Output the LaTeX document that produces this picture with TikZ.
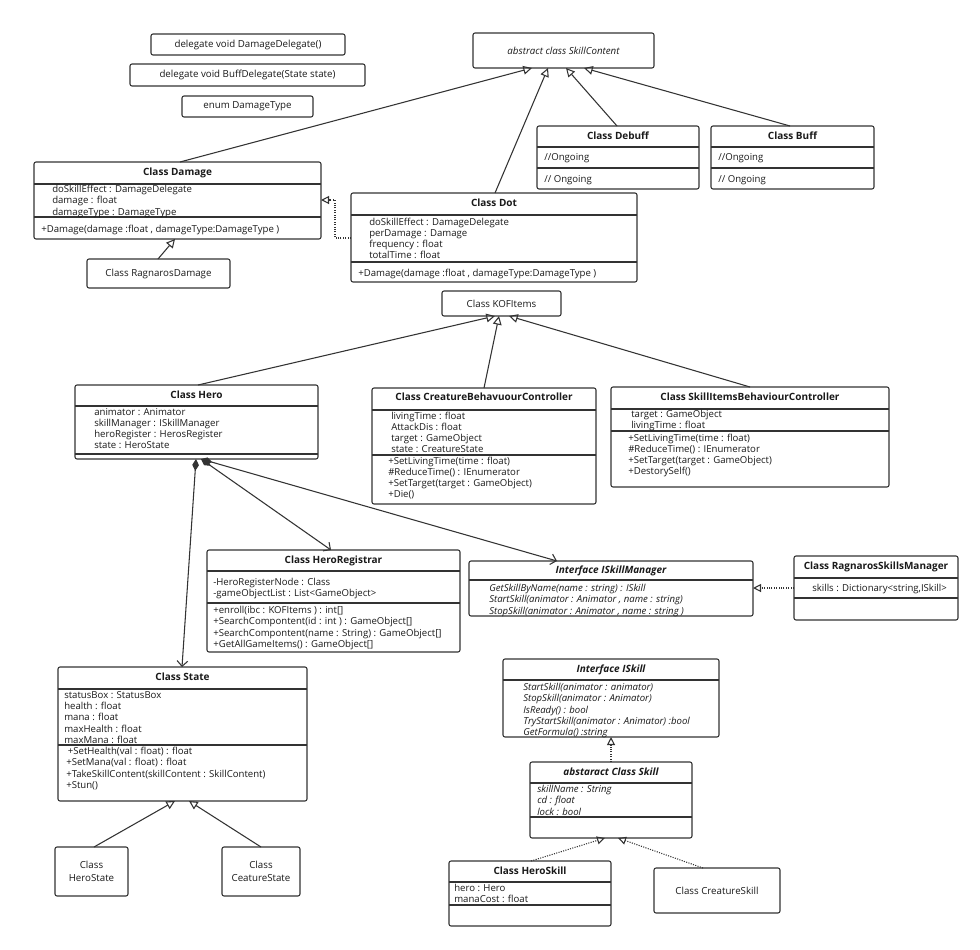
\documentclass[tikz,border=0pt]{standalone}
\usepackage{fontspec}
\setmainfont{Open Sans}
\usetikzlibrary{arrows.meta}
\definecolor{linec}{HTML}{333333}
\definecolor{textc}{HTML}{1A1A1A}
\newcommand\umlbox[5]{\node[ubox, minimum width={(#4)*0.75pt}, minimum height={(#5)*0.75pt}] (#1) at (#2,#3) {};}
\newcommand\hsep[2]{\draw[sepline] (#1.west |- 0,#2) -- (#1.east |- 0,#2);}
\newcommand\mline[1]{\hbox{#1}}
\tikzset{
  ubox/.style={draw=linec, line width=0.8pt, rounded corners=1.5pt, fill=white, anchor=north west, inner sep=0pt, outer sep=0pt},
  sepline/.style={draw=linec, line width=0.8pt},
  ttl/.style={font=\fontsize{7.5}{9}\selectfont\bfseries, text=textc, text height=5.5pt, text depth=1.5pt, inner sep=0pt},
  plain/.style={font=\fontsize{7.3}{9.75}\selectfont, text=textc, inner sep=0pt, align=center},
  txt/.style={anchor=base west, inner sep=0pt, yshift=-0.75pt, font=\fontsize{7.2}{8.4}\selectfont, text=textc},
  inh/.style={draw=linec, line width=0.8pt, -{Triangle[open, length=6.5pt, width=6.5pt]}},
  real/.style={draw=linec, line width=0.8pt, densely dotted, -{Triangle[open, length=6pt, width=6pt]}},
  comp/.style={draw=linec, line width=0.8pt, {Diamond[length=9pt, width=5pt]}-{Straight Barb[length=4pt, width=8pt]}}
}
\begin{document}
\begin{tikzpicture}[x=0.75pt, y=-0.75pt]
\path[use as bounding box, fill=white] (0,0) rectangle (980,949);

% top small boxes
\umlbox{DD}{151}{34}{194}{21}
\node[plain] (DDt) at (DD.center) {delegate void DamageDelegate()};
\umlbox{BD}{130}{64}{235}{22}
\node[plain] (BDt) at (BD.center) {delegate void BuffDelegate(State state)};
\umlbox{ET}{182}{96}{131}{21}
\node[plain] (ETt) at (ET.center) {enum DamageType};
\umlbox{SC}{473}{33}{181}{35}
\node[plain] (SCt) at (SC.center) {\itshape abstract class SkillContent};

% Damage
\umlbox{Dmg}{34}{162}{287}{77}
\node[ttl] (DmgT) at ([yshift=-7.9pt]Dmg.north) {Class Damage};
\hsep{Dmg}{184}\hsep{Dmg}{217}
\node[txt] (DmgA) at (52,191.7) {\vtop{\mline{doSkillEffect : DamageDelegate}\mline{damage : float}\mline{damageType : DamageType}}};
\node[txt] (DmgM) at (41,231.7) {+Damage(damage :float , damageType:DamageType )};

\umlbox{RD}{87}{259}{143}{29}
\node[plain] (RDt) at (RD.center) {Class RagnarosDamage};

% Debuff / Buff
\umlbox{Deb}{537}{126}{162}{63}
\node[ttl] (DebT) at ([yshift=-7.9pt]Deb.north) {Class Debuff};
\hsep{Deb}{147}\hsep{Deb}{168}
\node[txt] (DebA) at (544,159.7) {//Ongoing};
\node[txt] (DebM) at (544,181.7) {// Ongoing};

\umlbox{Buff}{711}{126}{163}{63}
\node[ttl] (BuffT) at ([yshift=-7.9pt]Buff.north) {Class Buff};
\hsep{Buff}{147}\hsep{Buff}{168}
\node[txt] (BuffA) at (718,159.7) {//Ongoing};
\node[txt] (BuffM) at (718,181.7) {// Ongoing};

% Dot
\umlbox{Dot}{351}{193}{286}{89}
\node[ttl] (DotT) at ([yshift=-8.25pt]Dot.north) {Class Dot};
\hsep{Dot}{215}\hsep{Dot}{262}
\node[txt] (DotA) at (369,224.3) {\vtop{\mline{doSkillEffect : DamageDelegate}\mline{perDamage : Damage}\mline{frequency : float}\mline{totalTime : float}}};
\node[txt] (DotM) at (358,275.7) {+Damage(damage :float , damageType:DamageType )};

% KOFItems
\umlbox{KOF}{442}{291}{119}{25}
\node[plain] (KOFt) at (KOF.center) {Class KOFItems};

% Hero
\umlbox{Hero}{75}{385}{243}{74}
\node[ttl] (HeroT) at ([yshift=-7.9pt]Hero.north) {Class Hero};
\hsep{Hero}{406}\hsep{Hero}{454}
\node[txt] (HeroA) at (94,414.3) {\vtop{\mline{animator : Animator}\mline{skillManager : ISkillManager}\mline{heroRegister : HerosRegister}\mline{state : HeroState}}};

% CreatureBehavuourController
\umlbox{CBC}{372}{388}{224}{116}
\node[ttl] (CBCT) at ([yshift=-7.5pt]CBC.north) {Class CreatureBehavuourController};
\hsep{CBC}{410}\hsep{CBC}{455}
\node[txt] (CBCA) at (391,418.3) {\vtop{\mline{livingTime : float}\mline{AttackDis : float}\mline{target : GameObject}\mline{state : CreatureState}}};
\node[txt] (CBCM) at (388,463.3) {\vtop{\mline{+SetLivingTime(time : float)}\mline{\#ReduceTime() : IEnumerator}\mline{+SetTarget(target : GameObject)}\mline{+Die()}}};

% SkillItemsBehaviourController
\umlbox{SIBC}{611}{387}{278}{100}
\node[ttl] (SIBCT) at ([yshift=-7.9pt]SIBC.north) {Class SkillItemsBehaviourController};
\hsep{SIBC}{409}\hsep{SIBC}{431}
\node[txt] (SIBCA) at (631,416.5) {\vtop{\mline{target : GameObject}\mline{livingTime : float}}};
\node[txt] (SIBCM) at (628,440.3) {\vtop{\mline{+SetLivingTime(time : float)}\mline{\#ReduceTime() : IEnumerator}\mline{+SetTarget(target : GameObject)}\mline{+DestorySelf()}}};

% HeroRegistrar
\umlbox{HR}{207}{550}{253}{102}
\node[ttl] (HRT) at ([yshift=-7.9pt]HR.north) {Class HeroRegistrar};
\hsep{HR}{571}\hsep{HR}{603}
\node[txt] (HRA) at (213,584.7) {\vtop{\mline{-HeroRegisterNode : Class}\mline{-gameObjectList : List<GameObject>}}};
\node[txt] (HRM) at (213,612.7) {\vtop{\mline{+enroll(ibc : KOFItems ) : int[]}\mline{+SearchCompontent(id : int ) : GameObject[]}\mline{+SearchCompontent(name : String) : GameObject[]}\mline{+GetAllGameItems() : GameObject[]}}};

% ISkillManager
\umlbox{ISM}{469}{561}{284}{55}
\node[ttl] (ISMT) at ([yshift=-7.1pt]ISM.north) {\itshape Interface ISkillManager};
\hsep{ISM}{580}
\node[txt, font=\fontsize{7.2}{8.4}\selectfont\itshape] (ISMM) at (489,590.7) {\vtop{\mline{GetSkillByName(name : string) : ISkill}\mline{StartSkill(animator : Animator , name : string)}\mline{StopSkill(animator : Animator , name : string )}}};

% RagnarosSkillsManager
\umlbox{RSM}{794}{556}{164}{64}
\node[ttl] (RSMT) at ([yshift=-8.25pt]RSM.north) {Class RagnarosSkillsManager};
\hsep{RSM}{578}\hsep{RSM}{598}
\node[txt] (RSMA) at (812,590.7) {skills : Dictionary<string,ISkill>};

% State
\umlbox{State}{58}{667}{249}{134}
\node[ttl] (StateT) at ([yshift=-8.25pt]State.north) {Class State};
\hsep{State}{689}\hsep{State}{745}
\node[txt] (StateA) at (64,697.5) {\vtop{\mline{statusBox : StatusBox}\mline{health : float}\mline{mana : float}\mline{maxHealth : float}\mline{maxMana : float}}};
\node[txt] (StateM) at (66,753.7) {\vtop{\mline{\,+SetHealth(val : float) : float}\mline{+SetMana(val : float) : float}\mline{+TakeSkillContent(skillContent : SkillContent)}\mline{+Stun()}}};

\umlbox{HSt}{55}{847}{73}{49}
\node[plain] (HStt) at (HSt.center) {Class\\HeroState};
\umlbox{CSt}{222}{847}{78}{49}
\node[plain] (CStt) at (CSt.center) {Class\\CeatureState};

% ISkill
\umlbox{ISK}{503}{659}{216}{78}
\node[ttl] (ISKT) at ([yshift=-7.9pt]ISK.north) {\itshape Interface ISkill};
\hsep{ISK}{680}
\node[txt, font=\fontsize{7.2}{8.4}\selectfont\itshape] (ISKM) at (523,689.7) {\vtop{\mline{StartSkill(animator : animator)}\mline{StopSkill(animator : Animator)}\mline{IsReady() : bool}\mline{TryStartSkill(animator : Animator) :bool}\mline{GetFormula() :string}}};

% Skill
\umlbox{SK}{530}{762}{162}{76}
\node[ttl] (SKT) at ([yshift=-7.9pt]SK.north) {\itshape abstaract Class Skill};
\hsep{SK}{783}\hsep{SK}{817}
\node[txt, font=\fontsize{7.2}{8.4}\selectfont\itshape] (SKA) at (537,791.7) {\vtop{\mline{skillName : String}\mline{cd : float}\mline{lock : bool}}};

% HeroSkill
\umlbox{HS}{449}{861}{162}{65}
\node[ttl] (HST) at ([yshift=-7.9pt]HS.north) {Class HeroSkill};
\hsep{HS}{882}\hsep{HS}{905}
\node[txt] (HSA) at (454,890.7) {\vtop{\mline{hero : Hero}\mline{manaCost : float}}};

\umlbox{CS}{654}{868}{126}{45}
\node[plain] (CSt2) at (CS.center) {Class CreatureSkill};

% connectors
\draw[inh] (Dmg.north -| 180,0) -- (SC.south -| 532,0);
\draw[inh] (Dot.north -| 495,0) -- (SC.south -| 548,0);
\draw[inh] (Deb.north -| 617,0) -- (SC.south -| 566,0);
\draw[inh] (Buff.north -| 790,0) -- (SC.south -| 584,0);
\draw[real] (Dot.west |- 0,238) -- (335,238) |- (Dmg.east |- 0,200);
\draw[inh] (RD.north -| 158,0) -- (Dmg.south -| 175,0);
\draw[inh] (Hero.north -| 198,0) -- (KOF.south -| 495,0);
\draw[inh] (CBC.north -| 484,0) -- (KOF.south -| 499,0);
\draw[inh] (SIBC.north -| 750,0) -- (KOF.south -| 509,0);
\draw[comp] (Hero.south -| 196,0) -- (State.north -| 182,0);
\draw[comp] (Hero.south -| 201,0) -- (HR.north -| 331,0);
\draw[comp] (Hero.south -| 201,0) -- (ISM.north -| 557,0);
\draw[real] (RSM.west |- 0,588) -- (ISM.east |- 0,588);
\draw[real] (SK.north -| 611,0) -- (ISK.south -| 611,0);
\draw[real] (HS.north -| 531,0) -- (SK.south -| 605,0);
\draw[real] (CS.north -| 703,0) -- (SK.south -| 618,0);
\draw[inh] (HSt.north -| 94,0) -- (State.south -| 175,0);
\draw[inh] (CSt.north -| 261,0) -- (State.south -| 189,0);
\end{tikzpicture}
\end{document}
